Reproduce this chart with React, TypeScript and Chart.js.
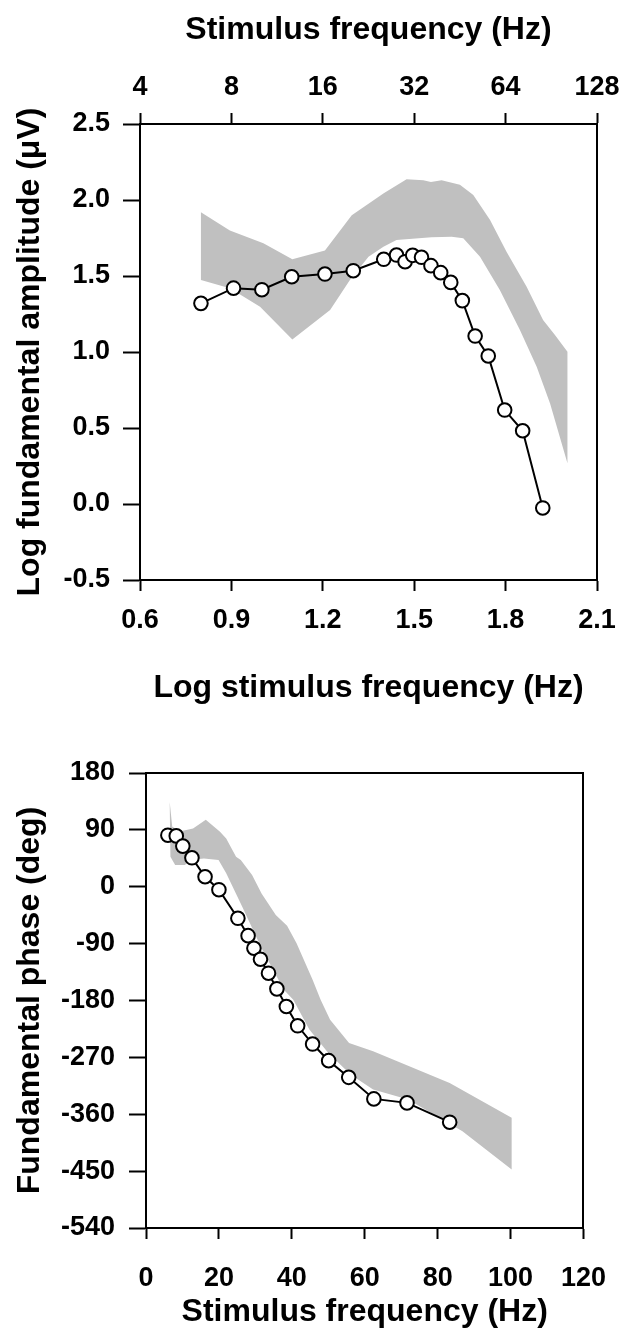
import React, { useEffect, useRef } from 'react';
import { Chart, registerables } from 'chart.js';

Chart.register(...registerables);

// ---------- Top panel: log amplitude vs log frequency ----------
const AMP_LOG_FREQ = [0.80, 0.907, 1.0, 1.098, 1.207, 1.30, 1.40, 1.442, 1.47, 1.495, 1.524, 1.555, 1.587, 1.62, 1.658, 1.70, 1.743, 1.797, 1.856, 1.922];
const AMP_LOG_VALUE = [1.32, 1.42, 1.41, 1.495, 1.513, 1.535, 1.61, 1.638, 1.594, 1.636, 1.623, 1.568, 1.522, 1.458, 1.338, 1.105, 0.974, 0.618, 0.482, -0.026];

// grey normative band outline (upper edge left->right, then lower edge right->left)
const AMP_BAND_X = [0.80, 0.895, 1.005, 1.10, 1.207, 1.295, 1.40, 1.475, 1.53, 1.555, 1.59, 1.65, 1.694, 1.749, 1.803, 1.869, 1.923, 1.962, 2.003,
  2.003, 1.946, 1.902, 1.847, 1.781, 1.716, 1.661, 1.623, 1.557, 1.442, 1.399, 1.35, 1.289, 1.224, 1.10, 0.994, 0.895, 0.80];
const AMP_BAND_Y = [1.92, 1.80, 1.715, 1.61, 1.667, 1.90, 2.044, 2.136, 2.13, 2.118, 2.13, 2.10, 2.033, 1.868, 1.66, 1.43, 1.21, 1.112, 1.002,
  0.268, 0.662, 0.903, 1.145, 1.408, 1.627, 1.748, 1.759, 1.755, 1.737, 1.693, 1.627, 1.474, 1.276, 1.083, 1.298, 1.419, 1.474];

const TOP_FREQ_LABELS = ['4', '8', '16', '32', '64', '128'];

// ---------- Bottom panel: phase vs frequency ----------
const PHASE_FREQ = [6.0, 8.3, 10.1, 12.6, 16.2, 20.0, 25.2, 28.0, 29.6, 31.4, 33.6, 35.9, 38.5, 41.6, 45.7, 50.1, 55.6, 62.5, 71.6, 83.3];
const PHASE_DEG = [81.6, 80.5, 64.3, 45.8, 15.8, -4.7, -49.9, -77.4, -97.3, -114.7, -136.8, -161.6, -189.5, -220, -248.9, -275.2, -301.6, -335.7, -342, -372.6];

const PHASE_BAND_X = [6.5, 7.2, 9.5, 12.9, 16.4, 20.3, 22.0, 24.7, 26.0, 29.1, 31.7, 35.6, 38.7, 41.3, 45.7, 47.9, 50.5, 55.7, 62.3, 83.3, 100.3,
  100.3, 86.8, 71.9, 62.3, 56.2, 50.0, 44.8, 40.4, 37.8, 31.7, 26.4, 22.0, 19.9, 15.9, 12.0, 10.7, 8.0, 6.7];
const PHASE_BAND_Y = [134, 95, 88, 92, 106, 87, 76.4, 47.4, 42.2, 18.5, -10.5, -44.7, -61.6, -89.4, -147.3, -178.9, -210.5, -247.3, -260.5, -310.4, -365.7,
  -447.3, -386.8, -336.8, -321, -297.3, -263, -226, -178.9, -163, -97.3, -31.6, 21.2, 42.2, 44.8, 42.2, 34.3, 34.3, 47.4];

const FONT_FAMILY = '"Liberation Sans", Arial, Helvetica, sans-serif';
const tickFont = { family: FONT_FAMILY, size: 27, weight: 'bold' as const };
const titleFont = { family: FONT_FAMILY, size: 32, weight: 'bold' as const };

const fixSize = (n: number) => (scale: any) => {
  if (scale.isHorizontal()) scale.height = n;
  else scale.width = n;
};

const tickGrid = (len: number) => ({
  display: true,
  drawOnChartArea: false,
  drawTicks: true,
  tickLength: len,
  tickWidth: 2,
  tickColor: '#000',
});
const axisBorder = { display: true, color: '#000', width: 2 };

const pts = (xs: number[], ys: number[]) => xs.map((x, i) => ({ x, y: ys[i] }));

function lineDataset(xs: number[], ys: number[]) {
  return {
    data: pts(xs, ys),
    borderColor: '#000',
    borderWidth: 2,
    pointRadius: 6.8,
    pointBorderWidth: 2,
    pointBackgroundColor: '#fff',
    pointBorderColor: '#000',
    fill: false,
    tension: 0,
    order: 0,
  };
}

function bandDataset(xs: number[], ys: number[]) {
  return {
    data: pts(xs, ys),
    borderWidth: 0,
    borderColor: 'rgba(0,0,0,0)',
    backgroundColor: '#c0c0c0',
    pointRadius: 0,
    fill: 'shape',
    tension: 0,
    order: 1,
  };
}

function ChartCanvas({ config, width, height }: { config: any; width: number; height: number }) {
  const ref = useRef<HTMLCanvasElement | null>(null);
  useEffect(() => {
    if (!ref.current) return;
    const chart = new Chart(ref.current, config);
    return () => chart.destroy();
  }, [config]);
  return <canvas ref={ref} width={width} height={height} style={{ display: 'block', width, height }} />;
}

const commonPlugins = {
  legend: { display: false },
  tooltip: { enabled: false },
};

const ampConfig = {
  type: 'line',
  data: {
    datasets: [lineDataset(AMP_LOG_FREQ, AMP_LOG_VALUE), bandDataset(AMP_BAND_X, AMP_BAND_Y)],
  },
  options: {
    responsive: false,
    animation: false,
    devicePixelRatio: 1,
    layout: { padding: { left: 0, top: 0, right: 32, bottom: 0 } },
    plugins: commonPlugins,
    scales: {
      x: {
        type: 'linear',
        position: 'bottom',
        min: 0.6,
        max: 2.1,
        ticks: { stepSize: 0.3, autoSkip: false, maxRotation: 0, padding: 13, color: '#000', font: tickFont, callback: (v: any) => Number(v).toFixed(1) },
        grid: tickGrid(11),
        border: axisBorder,
        title: { display: true, text: 'Log stimulus frequency (Hz)', color: '#000', font: titleFont, padding: { top: 0, bottom: 13 } },
        afterFit: fixSize(140),
      },
      x2: {
        type: 'linear',
        position: 'top',
        min: 0.6,
        max: 2.1,
        ticks: { stepSize: 0.3, autoSkip: false, maxRotation: 0, padding: 9, color: '#000', font: tickFont, callback: (_v: any, i: number) => TOP_FREQ_LABELS[i] },
        grid: tickGrid(11),
        border: axisBorder,
        title: { display: true, text: 'Stimulus frequency (Hz)', color: '#000', font: titleFont, padding: { top: 11, bottom: 0 } },
        afterFit: fixSize(124),
      },
      y: {
        type: 'linear',
        position: 'left',
        min: -0.5,
        max: 2.5,
        ticks: { stepSize: 0.5, padding: 13, color: '#000', font: tickFont, callback: (v: any) => Number(v).toFixed(1) },
        grid: tickGrid(17),
        border: axisBorder,
        title: { display: true, text: 'Log fundamental amplitude (\u03BCV)', color: '#000', font: titleFont, padding: { top: 11, bottom: 0 } },
        afterFit: fixSize(140),
      },
      y2: {
        type: 'linear',
        position: 'right',
        display: true,
        min: -0.5,
        max: 2.5,
        ticks: { display: false },
        grid: { display: false },
        border: axisBorder,
        afterFit: fixSize(0),
      },
    },
  },
};

const phaseConfig = {
  type: 'line',
  data: {
    datasets: [lineDataset(PHASE_FREQ, PHASE_DEG), bandDataset(PHASE_BAND_X, PHASE_BAND_Y)],
  },
  options: {
    responsive: false,
    animation: false,
    devicePixelRatio: 1,
    layout: { padding: { left: 0, top: 0, right: 26, bottom: 0 } },
    plugins: commonPlugins,
    scales: {
      x: {
        type: 'linear',
        position: 'bottom',
        min: 0,
        max: 120,
        ticks: { stepSize: 20, autoSkip: false, maxRotation: 0, padding: 23, color: '#000', font: tickFont },
        grid: tickGrid(11),
        border: axisBorder,
        title: { display: true, text: 'Stimulus frequency (Hz)', color: '#000', font: titleFont, padding: { top: 0, bottom: 12 } },
        afterFit: fixSize(115),
      },
      x2: {
        type: 'linear',
        position: 'top',
        display: true,
        min: 0,
        max: 120,
        ticks: { display: false },
        grid: { display: false },
        border: axisBorder,
        afterFit: fixSize(53),
      },
      y: {
        type: 'linear',
        position: 'left',
        min: -540,
        max: 180,
        ticks: { stepSize: 90, padding: 14, color: '#000', font: tickFont },
        grid: tickGrid(17),
        border: axisBorder,
        title: { display: true, text: 'Fundamental phase (deg)', color: '#000', font: titleFont, padding: { top: 11, bottom: 0 } },
        afterFit: fixSize(146),
      },
      y2: {
        type: 'linear',
        position: 'right',
        display: true,
        min: -540,
        max: 180,
        ticks: { display: false },
        grid: { display: false },
        border: axisBorder,
        afterFit: fixSize(0),
      },
    },
  },
};

export default function App() {
  return (
    <div style={{ position: 'absolute', left: 0, top: 0, width: 629, height: 1343, background: '#fff' }}>
      <ChartCanvas config={ampConfig} width={629} height={720} />
      <ChartCanvas config={phaseConfig} width={629} height={623} />
    </div>
  );
}
